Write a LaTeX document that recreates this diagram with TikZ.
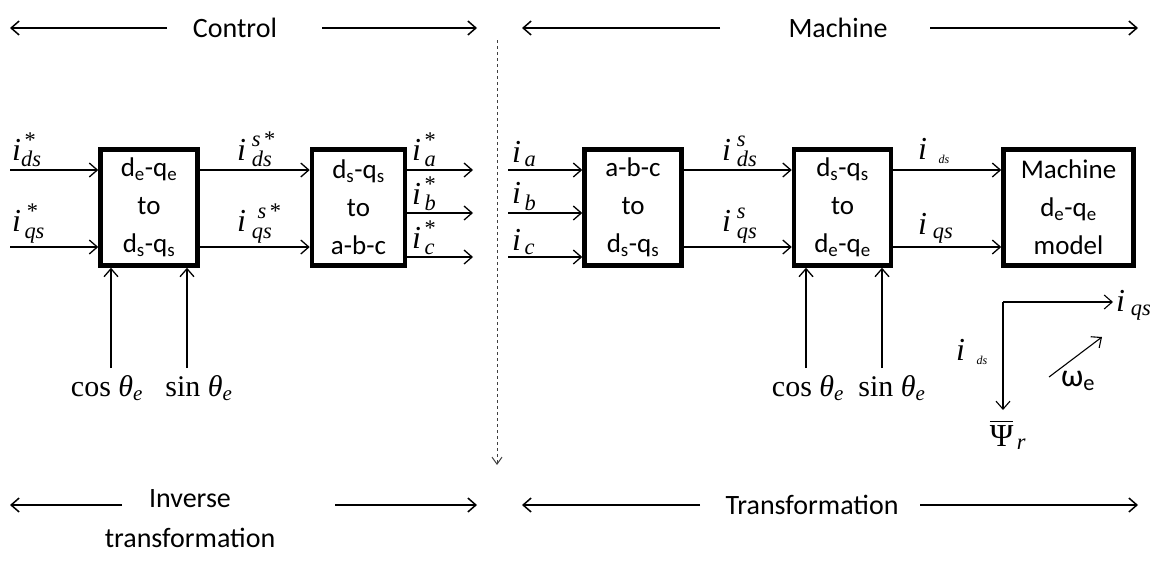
\documentclass[tikz,border=0pt]{standalone}
\usepackage{amsmath}
\usepackage{fontspec}
\setmainfont{Carlito}
\newfontfamily\tms{Liberation Serif}
\usetikzlibrary{arrows.meta, positioning}
\newcommand{\tv}[1]{\text{\tms\itshape #1}}
\newcommand{\tu}[1]{\text{\tms #1}}
\tikzset{
  blk/.style={
    rectangle, draw, line width=4.5pt, minimum width=97pt,
    minimum height=116pt, align=center, inner sep=0pt,
    font=\fontsize{27}{38}\selectfont
  },
  arr/.style={-{Straight Barb[length=8pt,width=14pt]}, line width=1.3pt},
  harr/.style={-{Straight Barb[length=8pt,width=14pt]}, line width=1.5pt},
  darr/.style={-{Straight Barb[length=7pt,width=10pt]}, dashed, gray!50!black, line width=1pt},
  lbl/.style={font=\fontsize{28}{40}\selectfont, align=center},
  sym/.style={font=\fontsize{32}{32}\selectfont, inner sep=0pt},
  trig/.style={font=\fontsize{30}{30}\selectfont\tms, inner sep=0pt}
}

\begin{document}
\begin{tikzpicture}[x=1pt, y=-1pt]
  \useasboundingbox (0,0) rectangle (1153,568);

  % blocks
  \node[blk] (dqtoab) at (149,207.5)
        {d\textsubscript{e}-q\textsubscript{e}\\to\\d\textsubscript{s}-q\textsubscript{s}};
  \node[blk, minimum width=93pt, right=110pt of dqtoab] (stoabc)
        {d\textsubscript{s}-q\textsubscript{s}\\to\\a-b-c};
  \node[blk, right=175pt of stoabc] (abctos)
        {a-b-c\\to\\d\textsubscript{s}-q\textsubscript{s}};
  \node[blk, right=108pt of abctos] (stoe)
        {d\textsubscript{s}-q\textsubscript{s}\\to\\d\textsubscript{e}-q\textsubscript{e}};
  \node[blk, minimum width=130pt, right=108pt of stoe] (mach)
        {Machine\\d\textsubscript{e}-q\textsubscript{e}\\model};

  % free ends
  \coordinate (in1) at (10,170);
  \coordinate (in2) at (10,247);
  \coordinate (oa) at (473,170);
  \coordinate (ob) at (473,213);
  \coordinate (oc) at (473,257);
  \coordinate (ia) at (508,170);
  \coordinate (ib) at (508,213);
  \coordinate (ic) at (508,257);
  \coordinate (cs1) at (111,368);
  \coordinate (sn1) at (187,368);
  \coordinate (cs2) at (806,368);
  \coordinate (sn2) at (882,368);

  % signal lines
  \draw[arr] (in1) -- (in1 -| dqtoab.west);
  \draw[arr] (in2) -- (in2 -| dqtoab.west);
  \draw[arr] (dqtoab.east |- in1) -- (stoabc.west |- in1);
  \draw[arr] (dqtoab.east |- in2) -- (stoabc.west |- in2);
  \draw[arr] (stoabc.east |- oa) -- (oa);
  \draw[arr] (stoabc.east |- ob) -- (ob);
  \draw[arr] (stoabc.east |- oc) -- (oc);
  \draw[arr] (ia) -- (ia -| abctos.west);
  \draw[arr] (ib) -- (ib -| abctos.west);
  \draw[arr] (ic) -- (ic -| abctos.west);
  \draw[arr] (abctos.east |- in1) -- (stoe.west |- in1);
  \draw[arr] (abctos.east |- in2) -- (stoe.west |- in2);
  \draw[arr] (stoe.east |- in1) -- (mach.west |- in1);
  \draw[arr] (stoe.east |- in2) -- (mach.west |- in2);
  \draw[arr] (cs1) -- (cs1 |- dqtoab.south);
  \draw[arr] (sn1) -- (sn1 |- dqtoab.south);
  \draw[arr] (cs2) -- (cs2 |- stoe.south);
  \draw[arr] (sn2) -- (sn2 |- stoe.south);

  % signal labels
  \node[sym, anchor=south west] (lids) at (12,167) {$\tv{i}^{\,\tu{*}}_{\tv{ds}}$};
  \node[sym, anchor=south west] (liqs) at (12,243) {$\tv{i}^{\;\tu{*}}_{\,\tv{qs}}$};
  \node[sym, anchor=south west] (lisds) at (237,167) {$\tv{i}^{\;\tv{s}\,\tu{*}}_{\;\tv{ds}}$};
  \node[sym, anchor=south west] (lisqs) at (237,243) {$\tv{i}^{\;\;\tv{s}\,\tu{*}}_{\;\tv{qs}}$};
  \node[sym, anchor=south west] (lia) at (412,167) {$\tv{i}^{\,\tu{*}}_{\,\tv{a}}$};
  \node[sym, anchor=south west] (lib) at (412,211) {$\tv{i}^{\,\tu{*}}_{\,\tv{b}}$};
  \node[sym, anchor=south west] (lic) at (412,255) {$\tv{i}^{\,\tu{*}}_{\,\tv{c}}$};
  \node[sym, anchor=south west] (ria) at (512,167) {$\tv{i}_{\,\tv{a}}$};
  \node[sym, anchor=south west] (rib) at (512,211) {$\tv{i}_{\,\tv{b}}$};
  \node[sym, anchor=south west] (ric) at (512,255) {$\tv{i}_{\,\tv{c}}$};
  \node[sym, anchor=south west] (rsds) at (722,167) {$\tv{i}^{\;\tv{s}}_{\;\tv{ds}}$};
  \node[sym, anchor=south west] (rsqs) at (722,243) {$\tv{i}^{\;\tv{s}}_{\;\tv{qs}}$};
  \node[sym, anchor=south west] (mids) at (918,164) {$\tv{i}_{\;\;\text{\fontsize{12}{12}\selectfont\tms\itshape ds}}$};
  \node[sym, anchor=south west] (miqs) at (918,243) {$\tv{i}_{\;\tv{qs}}$};

  \node[trig] (lcos) at (107,388) {cos \textit{θ}\textsubscript{\textit{e}}};
  \node[trig] (lsin) at (199,388) {sin \textit{θ}\textsubscript{\textit{e}}};
  \node[trig] (rcos) at (808,388) {cos \textit{θ}\textsubscript{\textit{e}}};
  \node[trig] (rsin) at (892,388) {sin \textit{θ}\textsubscript{\textit{e}}};

  % rotating frame
  \coordinate (orig) at (1003,302);
  \coordinate (qend) at (1113,302);
  \coordinate (dend) at (1003,410);
  \coordinate (wst) at (1049,377);
  \coordinate (wend) at (1102,337);
  \draw[arr, line width=1.1pt] (orig) -- (qend);
  \draw[arr, line width=1.1pt] (orig) -- (dend);
  \draw[arr, line width=1.1pt] (wst) -- (wend);
  \node[sym, anchor=west] (fiqs) at (1116,305) {$\tv{i}_{\;\tv{qs}}$};
  \node[sym] (fids) at (972,352) {$\tv{i}_{\;\;\text{\fontsize{12}{12}\selectfont\tms\itshape ds}}$};
  \node[sym] (psi) at (1008,435) {$\overline{\tu{Ψ}}_{\,\tv{r}}$};
  \node[font=\fontsize{32}{32}\selectfont, inner sep=0pt] (we) at (1078,381) {ω\textsubscript{e}};

  % divider
  \coordinate (dtop) at (497,40);
  \coordinate (dbot) at (497,465);
  \draw[darr] (dtop) -- (dbot);

  % headings
  \node[lbl] (ctl) at (235,28) {Control};
  \node[lbl] (mch) at (838,28) {Machine};
  \node[lbl] (inv) at (190,519) {Inverse\\transformation};
  \node[lbl] (trf) at (812,505) {Transformation};
  \coordinate (c1) at (167,28);  \coordinate (c2) at (10,28);
  \coordinate (c3) at (322,28);  \coordinate (c4) at (477,28);
  \coordinate (m1) at (720,28);  \coordinate (m2) at (522,28);
  \coordinate (m3) at (930,28);  \coordinate (m4) at (1138,28);
  \coordinate (v1) at (122,505); \coordinate (v2) at (10,505);
  \coordinate (v3) at (335,505); \coordinate (v4) at (477,505);
  \coordinate (t1) at (700,505); \coordinate (t2) at (522,505);
  \coordinate (t3) at (920,505); \coordinate (t4) at (1138,505);
  \draw[harr] (c1) -- (c2);
  \draw[harr] (c3) -- (c4);
  \draw[harr] (m1) -- (m2);
  \draw[harr] (m3) -- (m4);
  \draw[harr] (v1) -- (v2);
  \draw[harr] (v3) -- (v4);
  \draw[harr] (t1) -- (t2);
  \draw[harr] (t3) -- (t4);
\end{tikzpicture}
\end{document}
